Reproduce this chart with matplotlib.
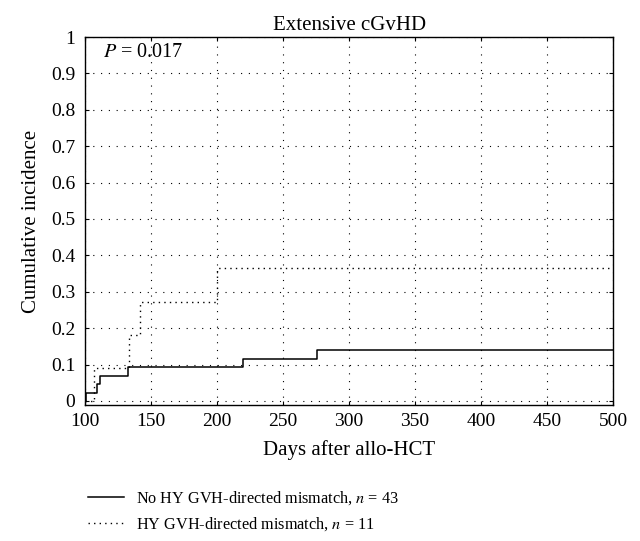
import matplotlib
matplotlib.use("Agg")
import matplotlib.pyplot as plt

plt.rcParams['font.family'] = ['Liberation Serif', 'DejaVu Serif']
plt.rcParams['mathtext.fontset'] = 'stix'

# step curves (days after allo-HCT, cumulative incidence)
days_no_hy = [100, 100.5, 109, 111.4, 132.5, 219.4, 276, 500]
inc_no_hy = [0, 0.023, 0.047, 0.070, 0.093, 0.116, 0.140, 0.140]

days_hy = [100, 107, 133.5, 141.6, 199.8, 500]
inc_hy = [0, 0.091, 0.182, 0.273, 0.364, 0.364]

x_ticks = [100, 150, 200, 250, 300, 350, 400, 450, 500]
y_ticks = [0, 0.1, 0.2, 0.3, 0.4, 0.5, 0.6, 0.7, 0.8, 0.9, 1]
y_labels = ['0', '0.1', '0.2', '0.3', '0.4', '0.5', '0.6', '0.7', '0.8', '0.9', '1']

fig = plt.figure(figsize=(6.4, 5.41), dpi=100)
ax = fig.add_axes([0.133, 0.2514, 0.825, 0.6802])

ax.step(days_no_hy, inc_no_hy, where='post', color='black', lw=1.1,
        label='No HY GVH-directed mismatch, $n$ = 43')
ax.step(days_hy, inc_hy, where='post', color='black', lw=1.0,
        linestyle=(0, (1, 3)), label='HY GVH-directed mismatch, $n$ = 11')

ax.set_xlim(100, 500)
ax.set_ylim(-0.011, 1)
ax.set_xticks(x_ticks)
ax.set_yticks(y_ticks)
ax.set_yticklabels(y_labels)
ax.tick_params(direction='in', top=True, right=True, labelsize=14, length=3, width=0.8)
ax.tick_params(axis='y', pad=7)
ax.tick_params(axis='x', pad=6)
ax.grid(True, color='black', linestyle=(0, (1, 6)), linewidth=0.8)
for s in ax.spines.values():
    s.set_linewidth(1.0)

ax.set_title('Extensive cGvHD', fontsize=15, pad=5)
ax.set_xlabel('Days after allo-HCT', fontsize=15, labelpad=7)
ax.set_ylabel('Cumulative incidence', fontsize=15, labelpad=7)
ax.text(0.034, 0.957, '$P$ = 0.017', transform=ax.transAxes, fontsize=14.5, va='center')

fig.legend(loc='upper left', bbox_to_anchor=(0.127, 0.108), frameon=False,
           fontsize=11.7, handlelength=2.2, handletextpad=0.75, labelspacing=0.55,
           borderaxespad=0)

fig.savefig('out.png', dpi=100)
